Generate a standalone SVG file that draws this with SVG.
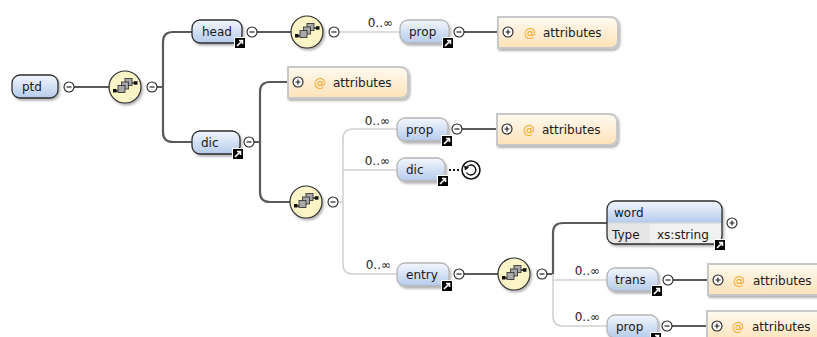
<svg xmlns="http://www.w3.org/2000/svg" xmlns:xlink="http://www.w3.org/1999/xlink" width="817" height="337" viewBox="0 0 817 337">
<style>
text{font-family:"DejaVu Sans","Liberation Sans",sans-serif;font-size:12px;fill:#1a1a1a}
.card{font-size:12px;fill:#222}
.at{fill:#f5a623}
.el{fill:url(#gEl);stroke:#2e2e2e;stroke-width:1.3;filter:url(#sh)}
.opt{fill:url(#gEl);stroke:#b4b4b4;stroke-width:1.3;filter:url(#sh)}
.attr{fill:url(#gAt);stroke:#c8c8c8;stroke-width:2;filter:url(#sh)}
.seq{fill:#fbf4c6;stroke:#2e2e2e;stroke-width:1.2;filter:url(#sh)}
.dk{fill:none;stroke:#5a5a5a;stroke-width:2.2}
.lt{fill:none;stroke:#d2d2d2;stroke-width:1.6}
.sq{fill:#a8a8a8;stroke:#3a3a3a;stroke-width:0.9}
</style>
<defs>
<linearGradient id="gEl" x1="0" y1="0" x2="0" y2="1"><stop offset="0" stop-color="#f3f7fd"/><stop offset="1" stop-color="#b5caeb"/></linearGradient>
<linearGradient id="gAt" x1="0" y1="0" x2="0" y2="1"><stop offset="0" stop-color="#fffaf0"/><stop offset="1" stop-color="#fde2b8"/></linearGradient>
<filter id="sh" x="-20%" y="-20%" width="140%" height="150%"><feDropShadow dx="1.5" dy="2" stdDeviation="1" flood-color="#000" flood-opacity="0.3"/></filter>
<symbol id="ref" overflow="visible"><rect x="0.5" y="0.5" width="11" height="11" fill="#000" stroke="#fff" stroke-width="1"/><path d="M3,9 L8,4 M5,3.5 H8.5 V7" stroke="#fff" stroke-width="1.6" fill="none"/></symbol>
<symbol id="minus" overflow="visible"><circle cx="0" cy="0" r="5" fill="#fff" stroke="#222" stroke-width="1.1"/><path d="M-2.5,0 H2.5" stroke="#222" stroke-width="1.2"/></symbol>
<symbol id="plus" overflow="visible"><circle cx="0" cy="0" r="5" fill="#fff" stroke="#222" stroke-width="1.1"/><path d="M-2.5,0 H2.5 M0,-2.5 V2.5" stroke="#222" stroke-width="1.2"/></symbol>
<symbol id="seqicon" overflow="visible"><path d="M-10,4 H-5 M5,-4 H10" stroke="#222" stroke-width="1.3"/><rect x="-12" y="2" width="3.5" height="3.5" fill="#111"/><rect x="9" y="-5.8" width="3.5" height="3.5" fill="#111"/><rect class="sq" x="0" y="-8.5" width="7" height="7"/><rect class="sq" x="-3.5" y="-5" width="7" height="7"/><rect class="sq" x="-7" y="-1.5" width="7" height="7"/></symbol>
</defs>

<g id="connectors">
<path class="dk" d="M74,87 H109"/>
<path class="dk" d="M157,87 H163 M192,32 H173 Q163,32 163,42 V132 Q163,142 173,142 H192"/>
<path class="dk" d="M257,32 H291"/>
<path class="lt" d="M339,32 H400"/>
<path class="dk" d="M464,32 H498"/>
<path class="dk" d="M254,142 H260 M288,82 H270 Q260,82 260,92 V192 Q260,202 270,202 H290"/>
<path class="lt" d="M338,202 H343 M397,129 H353 Q343,129 343,139 V264 Q343,274 353,274 H397 M343,170 H397"/>
<path class="dk" d="M462,129 H497"/>
<path d="M449,170 H461" fill="none" stroke="#111" stroke-width="2" stroke-dasharray="2,2"/>
<path class="dk" d="M464,274 H498"/>
<path class="dk" d="M547,274 H553 M607,223 H563 Q553,223 553,233 V274"/>
<path class="lt" d="M553,274 V316 Q553,326 563,326 H607 M553,280 H607"/>
<path class="dk" d="M673,280 H708"/>
<path class="dk" d="M672,326 H707"/>
<text class="card" x="393" y="27" text-anchor="end">0..∞</text>
<text class="card" x="390" y="125" text-anchor="end">0..∞</text>
<text class="card" x="390" y="165" text-anchor="end">0..∞</text>
<text class="card" x="391" y="269" text-anchor="end">0..∞</text>
<text class="card" x="600" y="275" text-anchor="end">0..∞</text>
<text class="card" x="600" y="321" text-anchor="end">0..∞</text>
</g>

<g id="ptd">
<rect class="el" x="12" y="75" width="46" height="23" rx="8"/>
<text x="22" y="91">ptd</text>
<use href="#minus" x="69" y="87"/>
</g>

<g id="seq1">
<circle class="seq" cx="125" cy="87" r="16"/>
<use href="#seqicon" x="125" y="87"/>
<use href="#minus" x="152" y="87"/>
</g>

<g id="head">
<rect class="el" x="192" y="20" width="50" height="23" rx="8"/>
<text x="202" y="36">head</text>
<use href="#ref" x="234" y="37"/>
<use href="#minus" x="252" y="32"/>
</g>

<g id="seq2">
<circle class="seq" cx="307" cy="32" r="16"/>
<use href="#seqicon" x="307" y="32"/>
<use href="#minus" x="334" y="32"/>
</g>

<g id="prop1">
<rect class="opt" x="400" y="20" width="49" height="23" rx="8"/>
<text x="409" y="36">prop</text>
<use href="#ref" x="442" y="37"/>
<use href="#minus" x="459" y="32"/>
</g>

<g id="attributes1">
<path class="attr" d="M498,17 H610 Q618,17 618,25 V40 Q618,48 610,48 H498 Z"/>
<use href="#plus" x="508" y="32"/>
<text class="at" x="524" y="37">@</text>
<text x="543" y="37">attributes</text>
</g>

<g id="dic">
<rect class="el" x="192" y="131" width="48" height="23" rx="8"/>
<text x="201" y="147">dic</text>
<use href="#ref" x="232" y="148"/>
<use href="#minus" x="249" y="142"/>
</g>

<g id="attributes2">
<path class="attr" d="M288,67 H400 Q408,67 408,75 V90 Q408,98 400,98 H288 Z"/>
<use href="#plus" x="298" y="82"/>
<text class="at" x="314" y="87">@</text>
<text x="333" y="87">attributes</text>
</g>

<g id="seq3">
<circle class="seq" cx="306" cy="202" r="16"/>
<use href="#seqicon" x="306" y="202"/>
<use href="#minus" x="333" y="202"/>
</g>

<g id="prop2">
<rect class="opt" x="397" y="118" width="51" height="23" rx="8"/>
<text x="406" y="134">prop</text>
<use href="#ref" x="441" y="135"/>
<use href="#minus" x="457" y="129"/>
</g>

<g id="attributes3">
<path class="attr" d="M497,114 H609 Q617,114 617,122 V137 Q617,145 609,145 H497 Z"/>
<use href="#plus" x="507" y="129"/>
<text class="at" x="523" y="134">@</text>
<text x="542" y="134">attributes</text>
</g>

<g id="dic2">
<rect class="opt" x="397" y="158" width="48" height="23" rx="8"/>
<text x="406" y="174">dic</text>
<use href="#ref" x="437" y="175"/>
<circle cx="471" cy="170" r="9" fill="#fff" stroke="#111" stroke-width="1.6"/>
<path d="M466.5,167.5 A5,5 0 1 1 466.5,172.5" fill="none" stroke="#111" stroke-width="1.4"/>
<path d="M464,165.5 L469,167.5 L465,170.5 Z" fill="#111"/>
</g>

<g id="entry">
<rect class="opt" x="397" y="263" width="52" height="23" rx="8"/>
<text x="406" y="279">entry</text>
<use href="#ref" x="441" y="280"/>
<use href="#minus" x="459" y="274"/>
</g>

<g id="seq4">
<circle class="seq" cx="514" cy="274" r="16"/>
<use href="#seqicon" x="514" y="274"/>
<use href="#minus" x="542" y="274"/>
</g>

<g id="word">
<g filter="url(#sh)">
<path d="M615,201 H714 Q722,201 722,209 V223 H607 V209 Q607,201 615,201 Z" fill="url(#gEl)"/>
<path d="M607,223 H650 V244 H615 Q607,244 607,236 Z" fill="#e6e6e6"/>
<path d="M650,223 H722 V236 Q722,244 714,244 H650 Z" fill="#f1f1f1"/>
<rect x="607" y="201" width="115" height="43" rx="8" fill="none" stroke="#2e2e2e" stroke-width="1.3"/>
</g>
<path d="M608,223 H721" stroke="#d8d8d8" stroke-width="1"/>
<text x="614" y="217">word</text>
<text x="612" y="239">Type</text>
<text x="657" y="239">xs:string</text>
<use href="#ref" x="714" y="239"/>
<use href="#plus" x="732" y="223"/>
</g>

<g id="trans">
<rect class="opt" x="607" y="268" width="51" height="23" rx="8"/>
<text x="615" y="284">trans</text>
<use href="#ref" x="651" y="285"/>
<use href="#minus" x="668" y="280"/>
</g>

<g id="attributes4">
<path class="attr" d="M708,264 H820 Q828,264 828,272 V287 Q828,295 820,295 H708 Z"/>
<use href="#plus" x="718" y="280"/>
<text class="at" x="733" y="285">@</text>
<text x="753" y="285">attributes</text>
</g>

<g id="prop3">
<rect class="opt" x="607" y="315" width="51" height="23" rx="8"/>
<text x="616" y="331">prop</text>
<use href="#ref" x="650" y="332"/>
<use href="#minus" x="667" y="326"/>
</g>

<g id="attributes5">
<path class="attr" d="M707,311 H819 Q827,311 827,319 V334 Q827,342 819,342 H707 Z"/>
<use href="#plus" x="717" y="326"/>
<text class="at" x="732" y="331">@</text>
<text x="752" y="331">attributes</text>
</g>
</svg>
